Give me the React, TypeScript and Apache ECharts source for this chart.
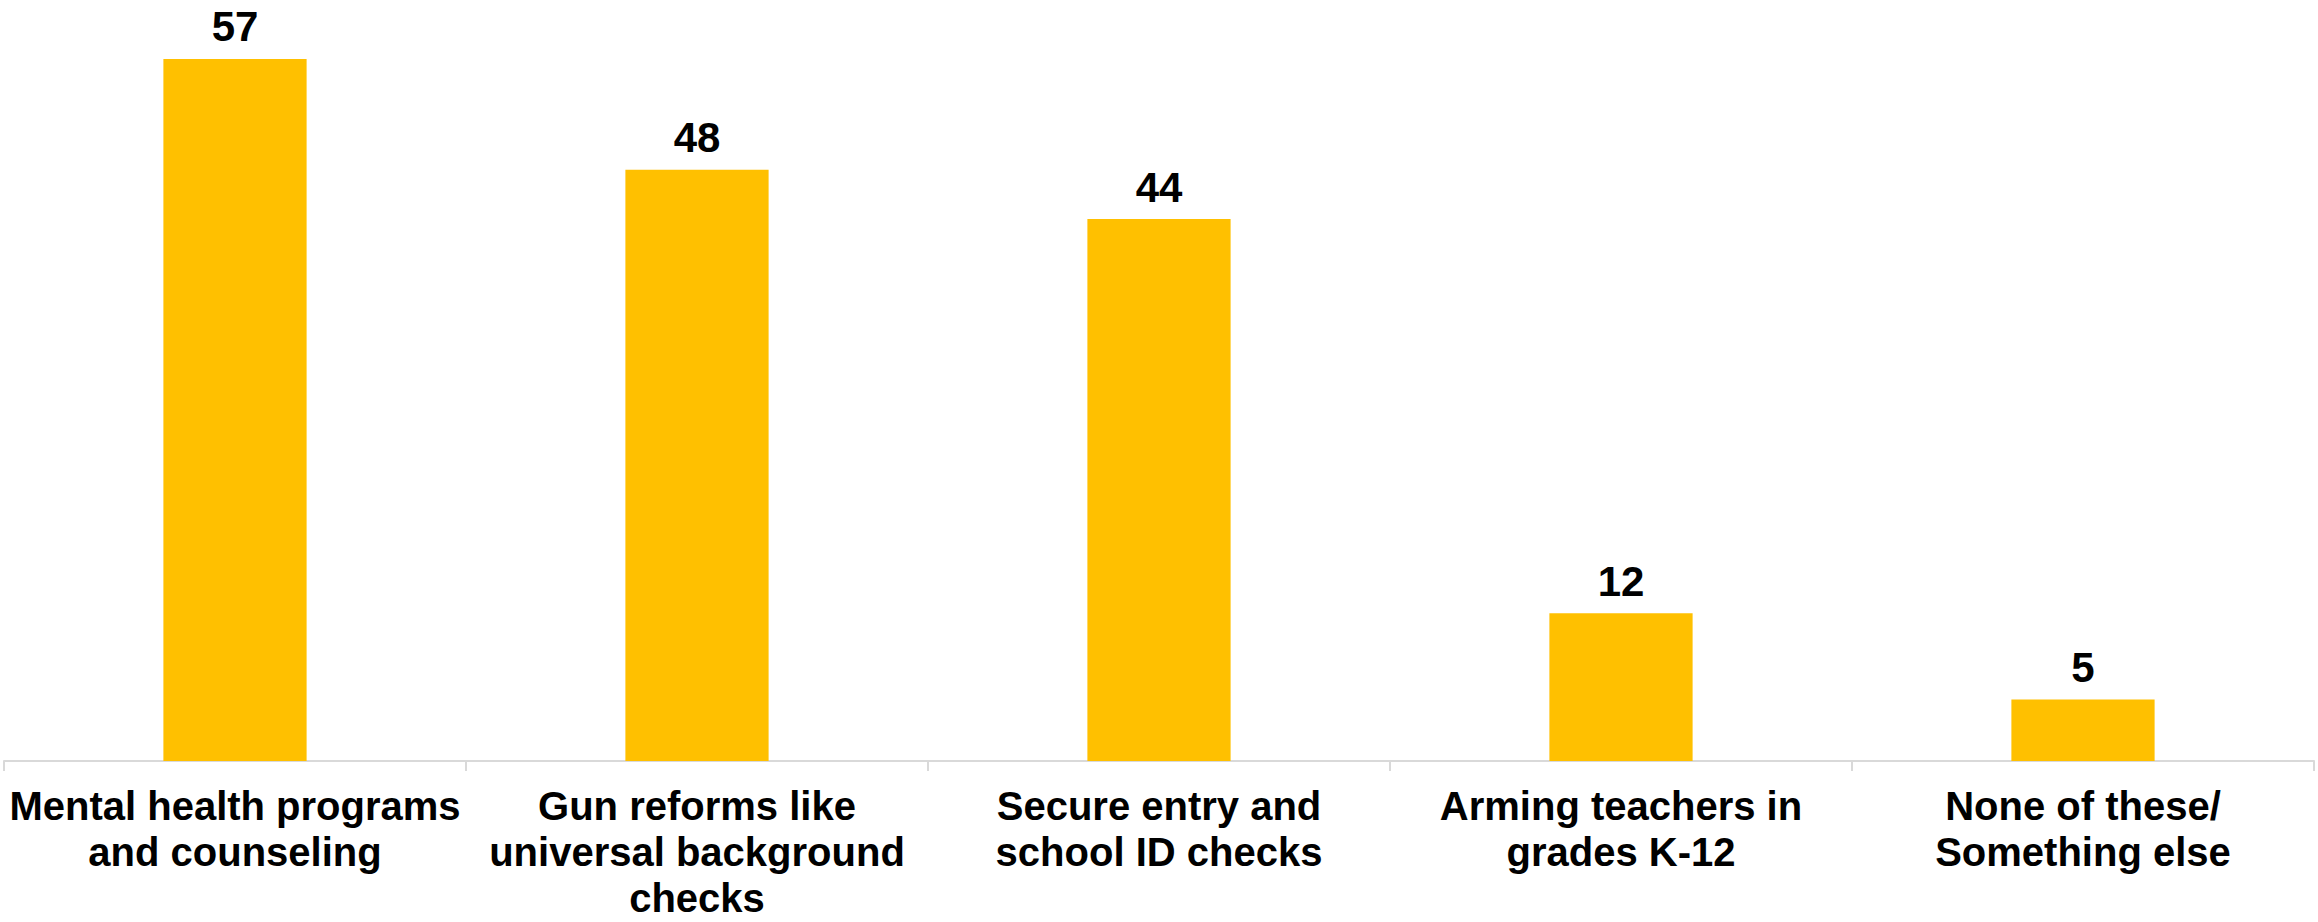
import React, { useEffect, useRef } from "react";
import * as echarts from "echarts";

const categories = [
  "Mental health programs\nand counseling",
  "Gun reforms like\nuniversal background\nchecks",
  "Secure entry and\nschool ID checks",
  "Arming teachers in\ngrades K-12",
  "None of these/\nSomething else",
];
const values = [57, 48, 44, 12, 5];

export default function App() {
  const ref = useRef<HTMLDivElement>(null);
  useEffect(() => {
    if (!ref.current) return;
    const chart = echarts.init(ref.current, null, { renderer: "svg" });
    chart.setOption({
      animation: false,
      backgroundColor: "#ffffff",
      grid: { left: 4, right: 4, top: 22, bottom: 161, containLabel: false },
      xAxis: {
        type: "category",
        data: categories,
        axisLine: { lineStyle: { color: "#d9d9d9", width: 2 } },
        axisTick: { show: true, length: 10, lineStyle: { color: "#d9d9d9", width: 2 } },
        axisLabel: {
          interval: 0,
          color: "#000000",
          fontFamily: "Liberation Sans, Arial, sans-serif",
          fontWeight: "bold",
          fontSize: 40,
          lineHeight: 46,
          margin: 22,
        },
      },
      yAxis: {
        type: "value",
        min: 0,
        max: 60,
        show: false,
        splitLine: { show: false },
      },
      series: [
        {
          type: "bar",
          data: values,
          barWidth: "31%",
          itemStyle: { color: "#FFC000" },
          label: {
            show: true,
            position: "top",
            distance: 11,
            color: "#000000",
            fontFamily: "Liberation Sans, Arial, sans-serif",
            fontWeight: "bold",
            fontSize: 42,
          },
        },
      ],
    });
    return () => chart.dispose();
  }, []);
  return (
    <div
      ref={ref}
      style={{ position: "fixed", left: 0, top: 0, width: 2318, height: 922 }}
    />
  );
}
